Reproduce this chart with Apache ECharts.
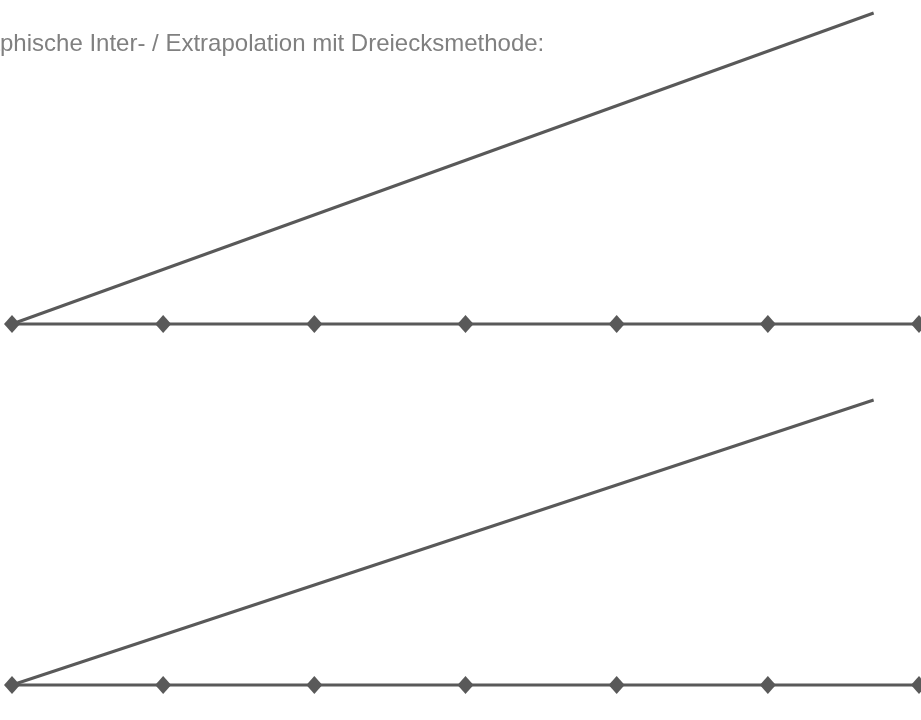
<!DOCTYPE html>
<html>
<head>
<meta charset="utf-8">
<style>html,body{margin:0;padding:0;background:#fff}#c{width:921px;height:720px}</style>
<script src="https://cdn.jsdelivr.net/npm/echarts@6/dist/echarts.min.js"></script>
</head>
<body>
<div id="c"></div>
<script>
var titleText = 'Graphische Inter- / Extrapolation mit Dreiecksmethode:';
var baseX = [0, 1, 2, 3, 4, 5, 6];
var baseY = [0, 0, 0, 0, 0, 0, 0];
var slopeX = [0, 5.7];
var slopeY = [0, 1];

var chart = echarts.init(document.getElementById('c'), null, {renderer: 'canvas'});
var lineColor = '#595959';
function basePts() { return baseX.map(function (x, i) { return [x, baseY[i]]; }); }
function slopePts() { return slopeX.map(function (x, i) { return [x, slopeY[i]]; }); }
function hiddenX(i) { return {gridIndex: i, type: 'value', min: 0, max: 6, show: false}; }
function hiddenY(i) { return {gridIndex: i, type: 'value', min: 0, max: 1, show: false}; }
chart.setOption({
  animation: false,
  title: {text: titleText, left: -45, top: 27,
    textStyle: {fontFamily: "'Liberation Sans', Arial, sans-serif", fontSize: 24, fontWeight: 'normal', color: '#808080'}},
  grid: [
    {left: 12, right: 2, top: 13, bottom: 396},
    {left: 12, right: 2, top: 400, bottom: 35}
  ],
  xAxis: [hiddenX(0), hiddenX(1)],
  yAxis: [hiddenY(0), hiddenY(1)],
  series: [
    {type: 'line', xAxisIndex: 0, yAxisIndex: 0, data: basePts(), symbol: 'diamond', symbolSize: [16, 18],
      lineStyle: {color: lineColor, width: 3}, itemStyle: {color: lineColor}, clip: false},
    {type: 'line', xAxisIndex: 0, yAxisIndex: 0, data: slopePts(), showSymbol: false,
      lineStyle: {color: lineColor, width: 3}, clip: false},
    {type: 'line', xAxisIndex: 1, yAxisIndex: 1, data: basePts(), symbol: 'diamond', symbolSize: [16, 18],
      lineStyle: {color: lineColor, width: 3}, itemStyle: {color: lineColor}, clip: false},
    {type: 'line', xAxisIndex: 1, yAxisIndex: 1, data: slopePts(), showSymbol: false,
      lineStyle: {color: lineColor, width: 3}, clip: false}
  ]
});
</script>
</body>
</html>
